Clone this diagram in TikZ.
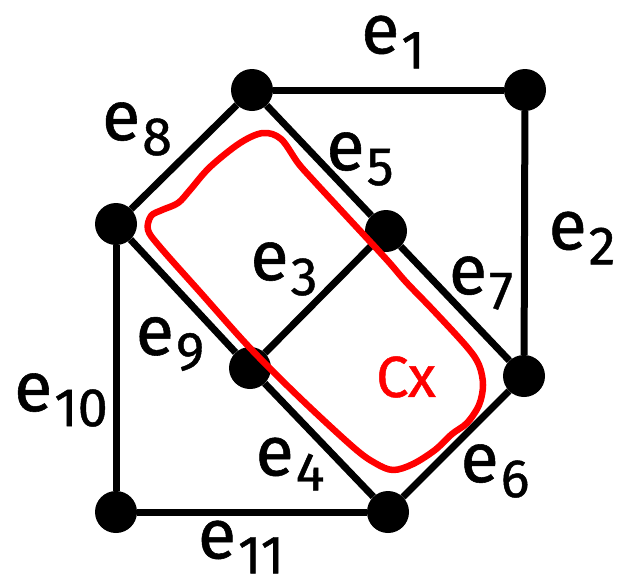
\documentclass[tikz,border=0pt]{standalone}
\usepackage{fontspec}
\setmainfont{Fira Sans}[FakeBold=0.8]
\newcommand{\elab}[1]{e\kern2pt\raisebox{-15pt}{\fontsize{54}{54}\selectfont #1}}
\begin{document}
\begin{tikzpicture}[x=1pt,y=-1pt,
  vert/.style={circle,fill=black,inner sep=0pt,minimum size=42pt},
  edge/.style={line width=7pt},
  lbl/.style={inner sep=0pt,font=\fontsize{70}{70}\selectfont},
  hand/.style={draw=red,line width=6.5pt,line cap=round,line join=round}]
\useasboundingbox (0,0) rectangle (617,581);
% vertices
\node[vert] (A) at (252,90) {};
\node[vert] (B) at (525,90) {};
\node[vert] (C) at (116,224) {};
\node[vert] (D) at (386,231) {};
\node[vert] (E) at (250,368) {};
\node[vert] (F) at (524,376) {};
\node[vert] (G) at (116,512) {};
\node[vert] (H) at (388,512) {};
% edges
\draw[edge] (A) -- (B);
\draw[edge] (B) -- (F);
\draw[edge] (D) -- (E);
\draw[edge] (E) -- (H);
\draw[edge] (A) -- (D);
\draw[edge] (H) -- (F);
\draw[edge] (D) -- (F);
\draw[edge] (A) -- (C);
\draw[edge] (C) -- (E);
\draw[edge] (C) -- (G);
\draw[edge] (G) -- (H);
% labels
\node[lbl] (l1) at (393,42) {\elab{1}};
\node[lbl] (l2) at (582,238) {\elab{2}};
\node[lbl] (l3) at (284,269) {\elab{3}};
\node[lbl] (l4) at (290,464) {\elab{4}};
\node[lbl] (l5) at (360,159) {\elab{5}};
\node[lbl] (l6) at (495,471) {\elab{6}};
\node[lbl] (l7) at (481,283) {\elab{7}};
\node[lbl] (l8) at (137,129) {\elab{8}};
\node[lbl] (l9) at (170,344) {\elab{9}};
\node[lbl] (l10) at (61,400) {\elab{10}};
\node[lbl] (l11) at (241,547) {\elab{11}};
% red hand-drawn loop
\draw[hand] plot[smooth cycle, tension=0.55] coordinates {
  (263,133) (281,139) (298,163) (313,180) (350,220) (387,260) (406,282)
  (433,310) (467,347) (479,365) (483,385) (479,405) (467,423) (452,434)
  (435,450) (413,464) (393,470) (375,463) (353,447) (300,398) (250,348)
  (200,292) (160,247) (148,230) (151,216) (162,210) (178,203) (190,190)
  (210,167) (240,143)};
\node[inner sep=0pt,text=red,font=\fontsize{58}{58}\selectfont] (cx) at (406,377) {Cx};
\end{tikzpicture}
\end{document}
